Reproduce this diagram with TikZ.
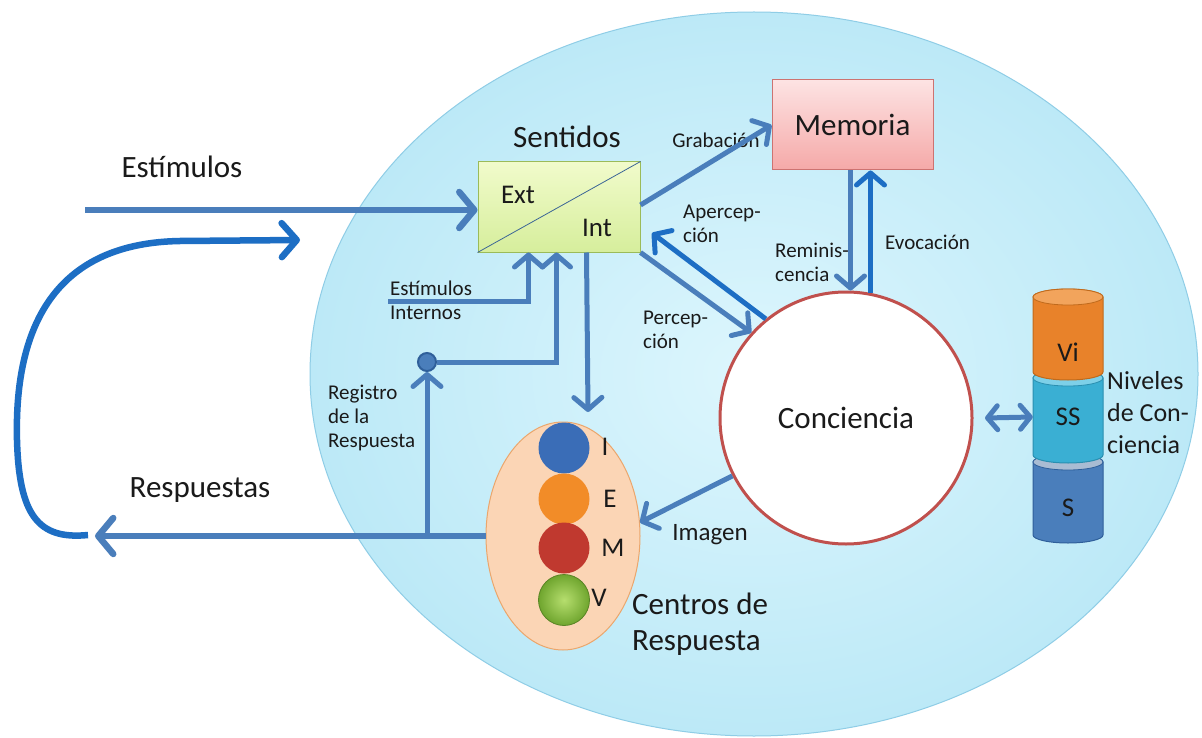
\documentclass[tikz,border=0pt]{standalone}
\usepackage{fontspec}
\setmainfont{Carlito}
\usetikzlibrary{arrows.meta,shapes.geometric,calc}
\definecolor{arrblue}{HTML}{4A7EBB}
\definecolor{brblue}{HTML}{1D6EC4}
\definecolor{bgin}{HTML}{DDF6FD}
\definecolor{bgout}{HTML}{BCE9F7}
\definecolor{bgedge}{HTML}{8FCDE6}
\definecolor{sentA}{HTML}{F1FBCB}
\definecolor{sentB}{HTML}{D6EE9C}
\definecolor{sentD}{HTML}{9BBB59}
\definecolor{memA}{HTML}{FDE3E3}
\definecolor{memB}{HTML}{F5A9A8}
\definecolor{memD}{HTML}{C0504D}
\definecolor{concD}{HTML}{C0504D}
\definecolor{cenF}{HTML}{FBD5B5}
\definecolor{cenD}{HTML}{EBA66C}
\definecolor{cI}{HTML}{3A6DB7}
\definecolor{cE}{HTML}{F28C28}
\definecolor{cM}{HTML}{C0392F}
\definecolor{cVin}{HTML}{B6DE6E}
\definecolor{cVout}{HTML}{6FA52E}
\definecolor{viF}{HTML}{E8822A}
\definecolor{viT}{HTML}{F2A45C}
\definecolor{viD}{HTML}{C06A1C}
\definecolor{ssF}{HTML}{3AAFD3}
\definecolor{ssT}{HTML}{7DD0E8}
\definecolor{ssD}{HTML}{2A8FB0}
\definecolor{sF}{HTML}{4A7EBB}
\definecolor{sT}{HTML}{A9BCD3}
\definecolor{sD}{HTML}{2F5F9A}
\definecolor{txt}{HTML}{1A1A1A}
\newcommand\fszBig{\fontsize{31}{36}\selectfont}
\newcommand\fszMid{\fontsize{27}{31}\selectfont}
\newcommand\fszSm{\fontsize{21}{24}\selectfont}
\newcommand\mycyl[5]{%
  \fill[#3,draw=#5,line width=1pt] (1033,#1) -- (1033,#2) arc[start angle=180,end angle=360,x radius=35pt,y radius=8pt] -- (1103,#1) arc[start angle=0,end angle=180,x radius=35pt,y radius=8pt] -- cycle;
  \fill[#4,draw=#5,line width=0.8pt] (1068,#1) ellipse[x radius=35pt,y radius=8pt];}
\begin{document}
\begin{tikzpicture}[x=1pt,y=-1pt,
  arr/.style={draw=arrblue,line width=5pt,-{Straight Barb[length=12pt,width=28pt,round]}},
  arrT/.style={draw=arrblue,line width=6.5pt,-{Straight Barb[length=15pt,width=36pt,round]}},
  arrB/.style={draw=brblue,line width=5pt,-{Straight Barb[length=12pt,width=28pt,round]}},
  arrboth/.style={draw=arrblue,line width=5pt,{Straight Barb[length=10pt,width=24pt,round]}-{Straight Barb[length=10pt,width=24pt,round]}},
  lbl/.style={text=txt,inner sep=0pt},
  lblL/.style={text=txt,inner sep=0pt,anchor=west,align=left},
  ball/.style={circle,minimum size=51pt,inner sep=0pt}]
\useasboundingbox (0,0) rectangle (1202,738);
\fill[white] (0,0) rectangle (1202,738);
% big ellipse
\shade[inner color=bgin,outer color=bgout] (754,374) ellipse[x radius=444pt,y radius=362pt];
\draw[bgedge,line width=1pt] (754,374) ellipse[x radius=444pt,y radius=362pt];
% Sentidos box
\node[draw=sentD,line width=1pt,top color=sentA,bottom color=sentB,minimum width=162pt,minimum height=90pt,inner sep=0pt] (sent) at (559,207) {};
\draw[draw=arrblue!80!black,line width=0.8pt] (sent.south west) -- (sent.north east);
\node[lbl,font=\fszMid] (ext) at (518,195) {Ext};
\node[lbl,font=\fszMid] (int) at (597,228) {Int};
\node[lbl,font=\fszBig] (senttitle) at (567,137) {Sentidos};
% Memoria box
\node[draw=memD!80,line width=1pt,top color=memA,bottom color=memB,minimum width=161pt,minimum height=90pt,font=\fszBig,text=txt] (mem) at (852.5,125) {Memoria};
% Conciencia
\node[circle,draw=concD,line width=3pt,fill=white,minimum size=252pt,inner sep=0pt,font=\fszBig,text=txt] (conc) at (846,418) {Conciencia};
% Centros ellipse
\node[ellipse,draw=cenD,line width=1pt,fill=cenF,minimum width=154pt,minimum height=228pt,inner sep=0pt] (centros) at (563,536) {};
\node[ball,fill=cI] (bI) at (564,448) {};
\node[ball,fill=cE] (bE) at (564,499) {};
\node[ball,fill=cM] (bM) at (564,548) {};
\node[ball,inner color=cVin,outer color=cVout,draw=cVout!80!black,line width=0.8pt] (bV) at (564,600) {};
\node[lbl,font=\fszMid] (lI) at (605,447) {I};
\node[lbl,font=\fszMid] (lE) at (610,499) {E};
\node[lbl,font=\fszMid] (lM) at (613,548) {M};
\node[lbl,font=\fszMid] (lV) at (599,598) {V};
\node[lblL,font=\fszBig] (centlbl) at (632,624) {Centros de\\Respuesta};
% cylinders
\mycyl{462}{535}{sF}{sT}{sD}
\mycyl{378}{455}{ssF}{ssT}{ssD}
\mycyl{297}{372}{viF}{viT}{viD}
\node[lbl,font=\fszMid,minimum width=70pt] (vi) at (1068,352) {Vi};
\node[lbl,font=\fszMid,minimum width=70pt] (ss) at (1068,417) {SS};
\node[lbl,font=\fszMid,minimum width=70pt] (s) at (1068,508) {S};
\node[lblL,font=\fontsize{26}{32}\selectfont] (niv) at (1107,413) {Niveles\\de Con-\\ciencia};
% outer labels
\node[lbl,font=\fszBig] (estlbl) at (182,167) {Estímulos};
\node[lbl,font=\fszBig] (resplbl) at (200,490) {Respuestas};
% small labels
\node[lbl,font=\fszSm] (grab) at (716,140) {Grabación};
\node[lblL,font=\fszSm] (aper) at (683,223.5) {Apercep-\\ción};
\node[lblL,font=\fszSm] (perc) at (643,329.5) {Percep-\\ción};
\node[lblL,font=\fszSm] (remi) at (775,262) {Reminis-\\cencia};
\node[lblL,font=\fszSm] (evoc) at (885,242) {Evocación};
\node[lblL,font=\fszSm] (estint) at (390,300) {Estímulos\\Internos};
\node[lblL,font=\fszSm] (regis) at (328,418) {Registro\\de la\\Respuesta};
\node[lbl,font=\fontsize{25}{29}\selectfont] (imag) at (710,535) {Imagen};
% connectors
\coordinate (estin) at (85,210);
\draw[arrT] (estin) -- (estin -| sent.west);
\coordinate (respend) at (95,536);
\draw[arrT] (centros.west) -- (respend);
\coordinate (fbstart) at (88,535);
\coordinate (fbend) at (300,240);
\draw[arrB,line width=6.5pt,-{Straight Barb[length=15pt,width=34pt,round]}] (fbstart) .. controls (38,540) and (19,515) .. (17,440) .. controls (14,320) and (60,243) .. (180,241) -- (fbend);
\node[circle,draw=sD,line width=2pt,fill=arrblue,minimum size=18pt,inner sep=0pt] (regdot) at (427,362) {};
\draw[arr] (centros.west -| regdot) -- (regdot.south);
\draw[arr] (regdot.east) -| ($(sent.south west)+(79,0)$);
\coordinate (intin) at (388,301);
\draw[arr] (intin) -| ($(sent.south west)+(51,0)$);
\coordinate (centin) at (588,412);
\draw[arr] ($(sent.south west)+(109,0)$) -- (centin);
\draw[arr] ([yshift=2pt]sent.east) -- (mem.west);
\coordinate (apend) at (652,233);
\draw[arrB] (conc.129) -- (apend);
\draw[arr] (sent.south east) -- (conc.138);
\draw[arr] ([xshift=-2pt]mem.south) -- ([xshift=-2pt]mem.south |- conc.north);
\draw[arrB] ([xshift=18pt,yshift=-2pt]mem.south |- conc.north) -- ([xshift=18pt]mem.south);
\draw[arr] (conc.207) -- (centros.10);
\coordinate (dbl) at (985,418);
\draw[arrboth] (dbl) -- (ss.west);
\end{tikzpicture}
\end{document}
